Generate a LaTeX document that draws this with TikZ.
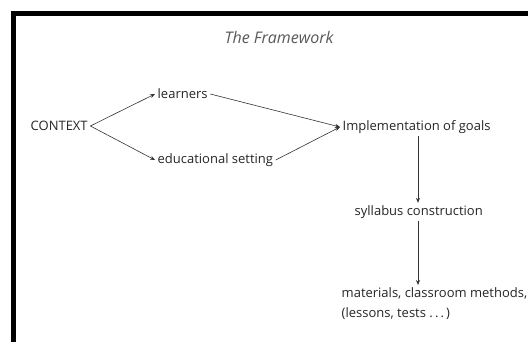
\documentclass[tikz,border=0pt]{standalone}
\usepackage{fontspec}
\setmainfont{Open Sans}
\usetikzlibrary{arrows.meta}
\begin{document}
\begin{tikzpicture}[x=1pt,y=-1pt,
  lbl/.style={inner sep=2.5pt, font=\fontsize{13}{15}\selectfont, text=black!85},
  conn/.style={draw=black!80, line width=0.6pt, -{Stealth[length=5pt,width=4pt]}}]
\useasboundingbox (0,0) rectangle (528,342);
\fill[white] (0,0) rectangle (528,342);
\draw[line width=5pt, line cap=rect] (13.5,342) -- (13.5,13.5) -- (528,13.5);
\node[lbl, text=black!65, font=\fontsize{16}{18}\selectfont\itshape] (title) at (279,38) {The Framework};
\node[lbl, anchor=west] (ctx) at (28,126) {CONTEXT};
\node[lbl, anchor=west] (lrn) at (155,94) {learners};
\node[lbl, anchor=west] (edu) at (155,160) {educational setting};
\node[lbl, anchor=west] (imp) at (340,127) {Implementation of goals};
\node[lbl, anchor=west] (syl) at (352,212) {syllabus construction};
\node[lbl, anchor=north west, align=left, font=\fontsize{13}{20}\selectfont] (mat) at (339,285) {materials, classroom methods,\\(lessons, tests .\,.\,.\,)};
\draw[conn] (ctx.east) -- (lrn.west);
\draw[conn] (ctx.east) -- (edu.west);
\draw[conn] (lrn.east) -- (imp.west);
\draw[conn] (edu.east) -- (imp.west);
\draw[conn] (imp.south -| 418,0) -- (syl.north -| 418,0);
\draw[conn] (syl.south -| 418,0) -- (mat.north -| 418,0);
\end{tikzpicture}
\end{document}
